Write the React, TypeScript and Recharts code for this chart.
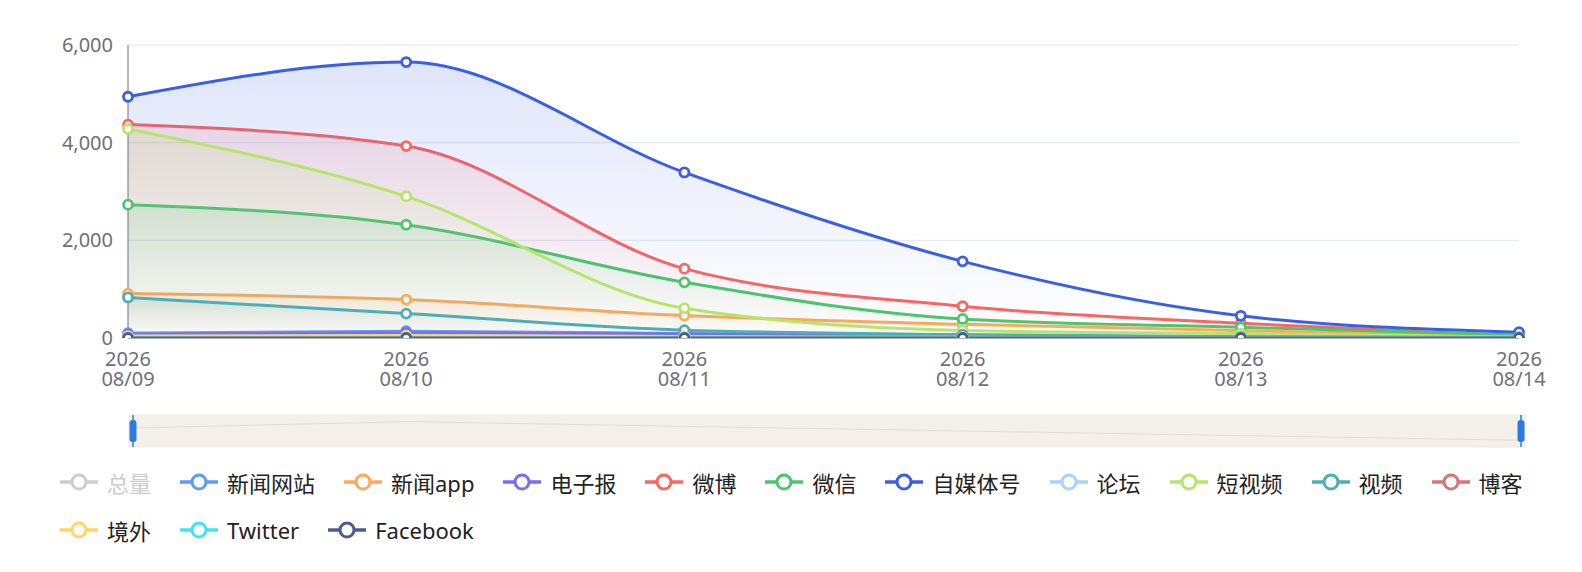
import React from "react";
import {
  Area,
  AreaChart,
  Brush,
  CartesianGrid,
  Legend,
  Line,
  LineChart,
  XAxis,
  YAxis,
} from "recharts";

const dates = [
  "2026/08/09",
  "2026/08/10",
  "2026/08/11",
  "2026/08/12",
  "2026/08/13",
  "2026/08/14",
];

// 总量 is switched off in the legend, it only feeds the slider shadow
const zongliang = [11300, 17000, 12700, 8600, 4500, 300];
const xinwenWangzhan = [100, 140, 90, 50, 20, 5];
const xinwenApp = [910, 786, 460, 280, 150, 40];
const dianzibao = [75, 105, 80, 40, 15, 5];
const weibo = [4370, 3930, 1420, 650, 300, 40];
const weixin = [2730, 2320, 1140, 390, 220, 60];
const zimeiti = [4940, 5650, 3390, 1570, 455, 120];
const luntan = [10, 15, 10, 5, 2, 0];
const duanshipin = [4280, 2900, 610, 155, 90, 20];
const shipin = [830, 500, 160, 70, 25, 10];
const boke = [5, 8, 5, 2, 1, 0];
const jingwai = [40, 50, 30, 15, 5, 2];
const twitter = [0, 0, 0, 0, 0, 0];
const facebook = [0, 0, 0, 0, 0, 0];

const yTicks = [0, 2000, 4000, 6000];

type Series = { key: string; name: string; color: string; values: number[]; hidden?: boolean };

const series: Series[] = [
  { key: "zl", name: "总量", color: "#cccccc", values: zongliang, hidden: true },
  { key: "xwwz", name: "新闻网站", color: "#5b9bf7", values: xinwenWangzhan },
  { key: "xwapp", name: "新闻app", color: "#ffa85a", values: xinwenApp },
  { key: "dzb", name: "电子报", color: "#7b6cf6", values: dianzibao },
  { key: "wb", name: "微博", color: "#ff6461", values: weibo },
  { key: "wx", name: "微信", color: "#4ac76b", values: weixin },
  { key: "zmt", name: "自媒体号", color: "#3a5fe6", values: zimeiti },
  { key: "lt", name: "论坛", color: "#a8d3ff", values: luntan },
  { key: "dsp", name: "短视频", color: "#b5e66b", values: duanshipin },
  { key: "sp", name: "视频", color: "#4caeb6", values: shipin },
  { key: "bk", name: "博客", color: "#d67676", values: boke },
  { key: "jw", name: "境外", color: "#ffd666", values: jingwai },
  { key: "tw", name: "Twitter", color: "#3fe4f7", values: twitter },
  { key: "fb", name: "Facebook", color: "#4d5b8e", values: facebook },
];

const data = dates.map((date, i) => {
  const row: Record<string, string | number> = { date };
  series.forEach((s) => {
    row[s.key] = s.values[i];
  });
  return row;
});

const FONT = '"Noto Sans", "Noto Sans CJK SC", sans-serif';
const AXIS_GREY = "#6e7079";

function DateTick({ x, y, payload }: any) {
  const [year, m, d] = String(payload.value).split("/");
  return (
    <text x={x} y={y} textAnchor="middle" fill={AXIS_GREY} fontSize={20} fontFamily={FONT}>
      <tspan x={x} y={y + 21}>{year}</tspan>
      <tspan x={x} y={y + 41}>{`${m}/${d}`}</tspan>
    </text>
  );
}

function Handle({ x, y, width, height }: any) {
  const cx = x + width / 2;
  return (
    <g>
      <line x1={cx} x2={cx} y1={y} y2={y + height} stroke="#2c7be0" strokeWidth={1.5} />
      <rect x={cx - 3.5} y={y + 5} width={7} height={height - 10} rx={3} fill="#2c7be0" />
    </g>
  );
}

function LegendBox() {
  return (
    <div style={{ display: "flex", flexWrap: "wrap", columnGap: 29, rowGap: 2, fontFamily: FONT }}>
      {series.map((s) => {
        const c = s.hidden ? "#cccccc" : s.color;
        return (
          <div key={s.key} style={{ display: "flex", alignItems: "center", height: 46 }}>
            <svg width={38} height={20} style={{ marginRight: 9 }}>
              <line x1={0} x2={38} y1={10} y2={10} stroke={c} strokeWidth={3.5} />
              <circle cx={19} cy={10} r={7} fill="#fff" stroke={c} strokeWidth={3} />
            </svg>
            <span style={{ fontSize: 22, color: s.hidden ? "#cccccc" : "#222", whiteSpace: "nowrap" }}>
              {s.name}
            </span>
          </div>
        );
      })}
    </div>
  );
}

export default function App() {
  const shown = series.filter((s) => !s.hidden);
  return (
    <div style={{ position: "absolute", left: 0, top: 0, width: 1582, height: 572, background: "#fff" }}>
      <AreaChart
        width={1582}
        height={572}
        data={data}
        margin={{ top: 45, right: 63, left: 0, bottom: 142 }}
      >
        <defs>
          {shown.map((s) => (
            <linearGradient key={s.key} id={`fill-${s.key}`} x1="0" y1="0" x2="0" y2="1">
              <stop offset="0%" stopColor={s.color} stopOpacity={0.16} />
              <stop offset="100%" stopColor={s.color} stopOpacity={0} />
            </linearGradient>
          ))}
        </defs>
        <CartesianGrid vertical={false} stroke="#e0e6f1" />
        <XAxis
          dataKey="date"
          height={60}
          tick={<DateTick />}
          tickLine={false}
          tickSize={0}
          tickMargin={7}
          interval={0}
          stroke={AXIS_GREY}
        />
        <YAxis
          width={128}
          domain={[0, 6000]}
          allowDataOverflow
          ticks={yTicks}
          tickFormatter={(v) => v.toLocaleString("en-US")}
          tick={{ fill: AXIS_GREY, fontSize: 20, fontFamily: FONT }}
          tickLine={false}
          tickMargin={9}
          stroke={AXIS_GREY}
        />
        {shown.map((s) => (
          <Area
            key={s.key}
            type="monotone"
            dataKey={s.key}
            name={s.name}
            stroke={s.color}
            strokeWidth={3}
            fill={`url(#fill-${s.key})`}
            fillOpacity={1}
            dot={{ r: 4.5, fill: "#fff", stroke: s.color, strokeWidth: 2.8 }}
            activeDot={false}
            isAnimationActive={false}
          />
        ))}
        <Legend
          layout="horizontal"
          verticalAlign="middle"
          align="center"
          content={<LegendBox />}
          wrapperStyle={{ top: 459, left: 60, width: 1490 }}
        />
        <Brush
          dataKey="date"
          x={129}
          y={415}
          width={1396}
          height={32}
          travellerWidth={8}
          fill="#f5f1ec"
          stroke="#efe9e2"
          traveller={(p: any) => <Handle {...p} />}
        >
          <LineChart>
            <YAxis
              yAxisId="pano"
              hide
              domain={([lo, hi]: number[]) => [lo - (hi - lo) * 0.3, hi + (hi - lo) * 0.3]}
            />
            <Line
              yAxisId="pano"
              type="linear"
              dataKey="zl"
              stroke="#dcd8d3"
              strokeWidth={1}
              dot={false}
              isAnimationActive={false}
            />
          </LineChart>
        </Brush>
      </AreaChart>
    </div>
  );
}
